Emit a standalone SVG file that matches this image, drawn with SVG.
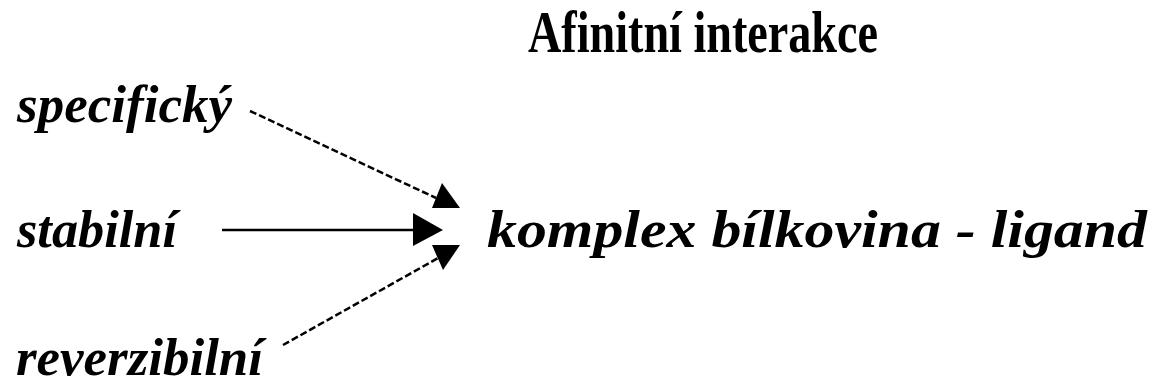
<svg xmlns="http://www.w3.org/2000/svg" width="1153" height="388" viewBox="0 0 1153 388">
<style>
.lbl{font-family:"Liberation Serif","Times New Roman",serif;font-weight:bold;font-style:italic;fill:#000;font-size:53px}
.ttl{font-family:"Liberation Serif","Times New Roman",serif;font-weight:bold;fill:#000}
.ln{stroke:#000;stroke-width:2.5;fill:none}
.dash{stroke-dasharray:7 3}
.head{fill:#000;stroke:none}
</style>
<rect width="1153" height="388" fill="#fff"/>
<g id="title"><text class="ttl" x="528" y="52" font-size="59" textLength="350" lengthAdjust="spacingAndGlyphs">Afinitní interakce</text></g>
<g id="specificky"><text class="lbl" x="17" y="122" textLength="215" lengthAdjust="spacingAndGlyphs">specifický</text></g>
<g id="stabilni"><text class="lbl" x="17" y="247" textLength="160" lengthAdjust="spacingAndGlyphs">stabilní</text></g>
<g id="reverzibilni"><text class="lbl" x="16" y="375" textLength="247" lengthAdjust="spacingAndGlyphs">reverzibilní</text></g>
<g id="komplex"><text class="lbl" x="487" y="247" textLength="660" lengthAdjust="spacingAndGlyphs">komplex bílkovina - ligand</text></g>
<g id="connectors">
<line class="ln dash" x1="250" y1="111" x2="436" y2="198"/>
<polygon class="head" points="442,183 432,208 460,208"/>
<line class="ln" x1="222" y1="230" x2="416" y2="230"/>
<polygon class="head" points="413,213 443,230 413,246"/>
<line class="ln dash" x1="283" y1="345" x2="440" y2="257"/>
<polygon class="head" points="432,245 460,245 443,270"/>
</g>
</svg>
